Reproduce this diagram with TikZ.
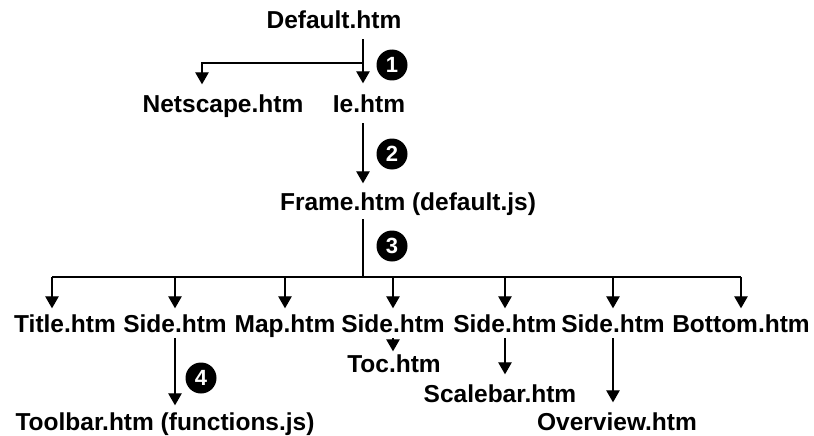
\documentclass[tikz,border=0pt]{standalone}
\usepackage{fontspec}
\setmainfont{Liberation Sans}
\usetikzlibrary{arrows.meta}

\begin{document}
\begin{tikzpicture}[x=1pt, y=-1pt,
    >={Triangle[width=13.5pt,length=12pt]},
    conn/.style={line width=1.1pt},
    file/.style={anchor=base, font=\bfseries\fontsize{24.5}{29}\selectfont,
        text height=17.5pt, text depth=0pt, inner xsep=0pt, inner ysep=6pt},
    badge/.style={circle, fill=black, text=white, minimum size=31pt,
        inner sep=0pt, font=\bfseries\fontsize{22}{22}\selectfont}]
    \useasboundingbox (0,0) rectangle (814,436);

    % Pages
    \node[file, inner ysep=10pt] (def) at (334,29) {Default.htm};
    \node[file, inner ysep=10pt] (ns) at (223,112) {Netscape.htm};
    \node[file, inner ysep=11pt] (ie) at (369,112) {Ie.htm};
    \node[file, inner ysep=9pt] (frame) at (408,210) {Frame.htm (default.js)};
    \node[file] (title) at (65,332) {Title.htm};
    \node[file] (side2) at (175,332) {Side.htm};
    \node[file] (map) at (285,332) {Map.htm};
    \node[file] (side4) at (393,332) {Side.htm};
    \node[file] (side5) at (505,332) {Side.htm};
    \node[file] (side6) at (613,332) {Side.htm};
    \node[file] (bottom) at (741,332) {Bottom.htm};
    \node[file, inner ysep=3pt] (toc) at (394,372) {Toc.htm};
    \node[file, inner ysep=10pt] (scale) at (500,402) {Scalebar.htm};
    \node[file, inner ysep=7pt] (tool) at (165,430) {Toolbar.htm (functions.js)};
    \node[file, inner ysep=10pt] (over) at (617,430) {Overview.htm};

    % Step numbers
    \node[badge] (b1) at (392,65) {1};
    \node[badge] (b2) at (392,154) {2};
    \node[badge] (b3) at (392,246) {3};
    \node[badge] (b4) at (201,378) {4};

    % Trunk: Default.htm -> Ie.htm -> Frame.htm
    \coordinate (trunk) at (363,0);
    \coordinate (split) at (363,63);
    \draw[->, conn] (def.south -| trunk) -- (ie.north -| trunk);
    \draw[->, conn] (split) -| ([xshift=-21pt]ns.north);
    \draw[->, conn] (ie.south -| trunk) -- (frame.north -| trunk);

    % Frame.htm -> frames
    \coordinate (bus) at (0,277);
    \coordinate (tleft) at ([xshift=-13pt]title.north);
    \draw[conn] (frame.south -| trunk) -- (trunk |- bus);
    \draw[conn] (tleft |- bus) -- (bottom.north |- bus);
    \draw[->, conn] (tleft |- bus) -- (tleft);
    \foreach \n in {side2, map, side4, side5, side6, bottom}
        \draw[->, conn] (\n.north |- bus) -- (\n.north);

    % Frames -> sub pages
    \draw[->, conn] (side2.south) -- (side2.south |- tool.north);
    \draw[->, conn] (side4.south) -- (side4.south |- toc.north);
    \draw[->, conn] (side5.south) -- (side5.south |- scale.north);
    \draw[->, conn] (side6.south) -- (side6.south |- over.north);
\end{tikzpicture}
\end{document}
